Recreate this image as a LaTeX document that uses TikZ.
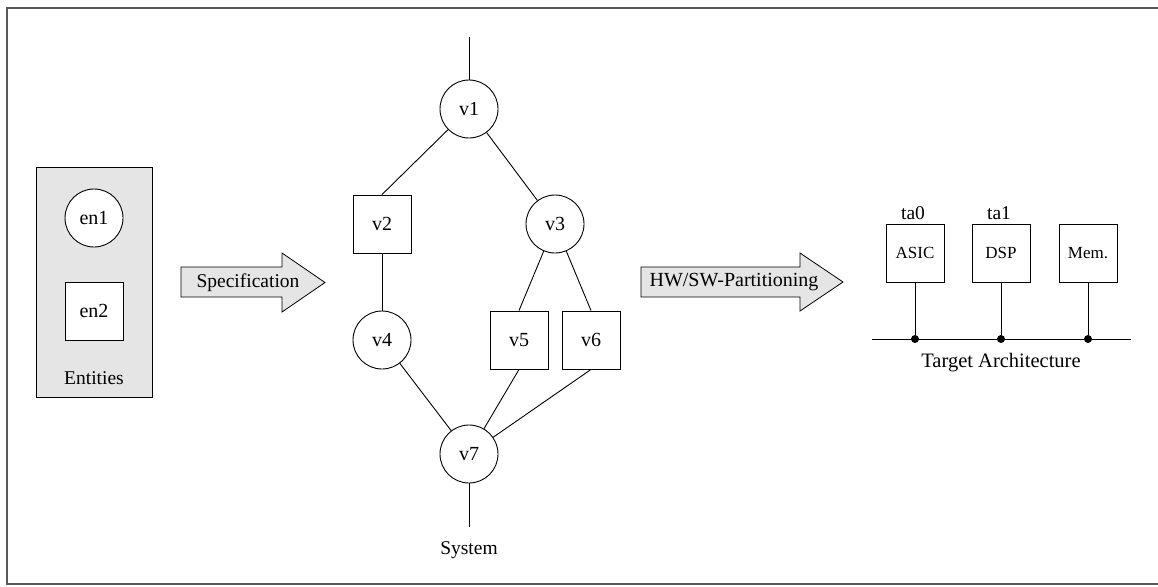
\documentclass[tikz,border=0pt]{standalone}
\usepackage{fontspec}
\setmainfont{Liberation Serif}
\begin{document}
\begin{tikzpicture}[x=1pt,y=-1pt,
  line width=0.9pt,
  lbl/.style={font=\fontsize{19.5}{22}\selectfont, inner sep=0pt},
  widelbl/.style={font=\fontsize{20.5}{23}\selectfont, inner sep=0pt},
  circ/.style={circle, draw, minimum size=58pt, inner sep=0pt, font=\fontsize{20}{22}\selectfont},
  sq/.style={rectangle, draw, minimum size=58pt, inner sep=0pt, font=\fontsize{20}{22}\selectfont},
  unit/.style={rectangle, draw, minimum size=58pt, inner sep=0pt, font=\fontsize{17}{20}\selectfont},
  bigarrow/.style={draw, fill=black!10, line width=0.8pt},
  frameline/.style={draw=black!65, line width=1.6pt},
  dot/.style={circle, fill, inner sep=0pt, minimum size=8pt}
]
\useasboundingbox (0,0) rectangle (1158,586);

% outer frame
\draw[frameline] (1158,8) -- (7,8) -- (7,584) -- (1158,584);

% entities panel
\draw[fill=black!10] (36,167) rectangle (152,397);
\node[circ, fill=white] (en1) at (94,218) {en1};
\node[sq, fill=white] (en2) at (94,311) {en2};
\node[lbl] (ent) at (94,378) {Entities};

% specification arrow
\draw[bigarrow] (181,267) -- (282,267) -- (282,253) -- (325,282.5) -- (282,312) -- (282,297) -- (181,297) -- cycle;
\node[font=\fontsize{19.5}{21}\selectfont, inner sep=0pt] (spec) at (248,283) {Specification};

% system graph
\node[circ] (v1) at (469,109) {v1};
\node[sq]   (v2) at (382,224) {v2};
\node[circ] (v3) at (555,224) {v3};
\node[circ] (v4) at (382,340) {v4};
\node[sq]   (v5) at (519,340) {v5};
\node[sq]   (v6) at (591,340) {v6};
\node[circ] (v7) at (469,454) {v7};
\coordinate (in) at (469,37);
\coordinate (out) at (469,527);
\node[lbl] (sys) at (469,550) {System};

\draw (in) -- (v1);
\draw (v1) -- (v2.north);
\draw (v1) -- (v3);
\draw (v2) -- (v4);
\draw (v3) -- (v5.north);
\draw (v3) -- (v6.north);
\draw (v4) -- (v7);
\draw (v5.south) -- (v7);
\draw (v6.south) -- (v7);
\draw (v7) -- (out);

% partitioning arrow
\draw[bigarrow] (641,267) -- (800,267) -- (800,253) -- (843,282) -- (800,311) -- (800,297) -- (641,297) -- cycle;
\node[font=\fontsize{20}{22}\selectfont, inner sep=0pt] (part) at (734,282) {HW/SW-Partitioning};

% target architecture
\node[unit] (asic) at (915,253) {ASIC};
\node[unit] (dsp)  at (1001,253) {DSP};
\node[unit] (mem)  at (1088,253) {Mem.};
\node[lbl] (ta0) at (913,213) {ta0};
\node[lbl] (ta1) at (999,213) {ta1};

\coordinate (busl) at (872,339);
\coordinate (busr) at (1131,339);
\draw (busl) -- (busr);
\node[dot] (d0) at (915,339) {};
\node[dot] (d1) at (1001,339) {};
\node[dot] (d2) at (1088,339) {};
\draw (asic) -- (d0);
\draw (dsp) -- (d1);
\draw (mem) -- (d2);
\node[widelbl] (tarch) at (1001,363) {Target Architecture};

\end{tikzpicture}
\end{document}
